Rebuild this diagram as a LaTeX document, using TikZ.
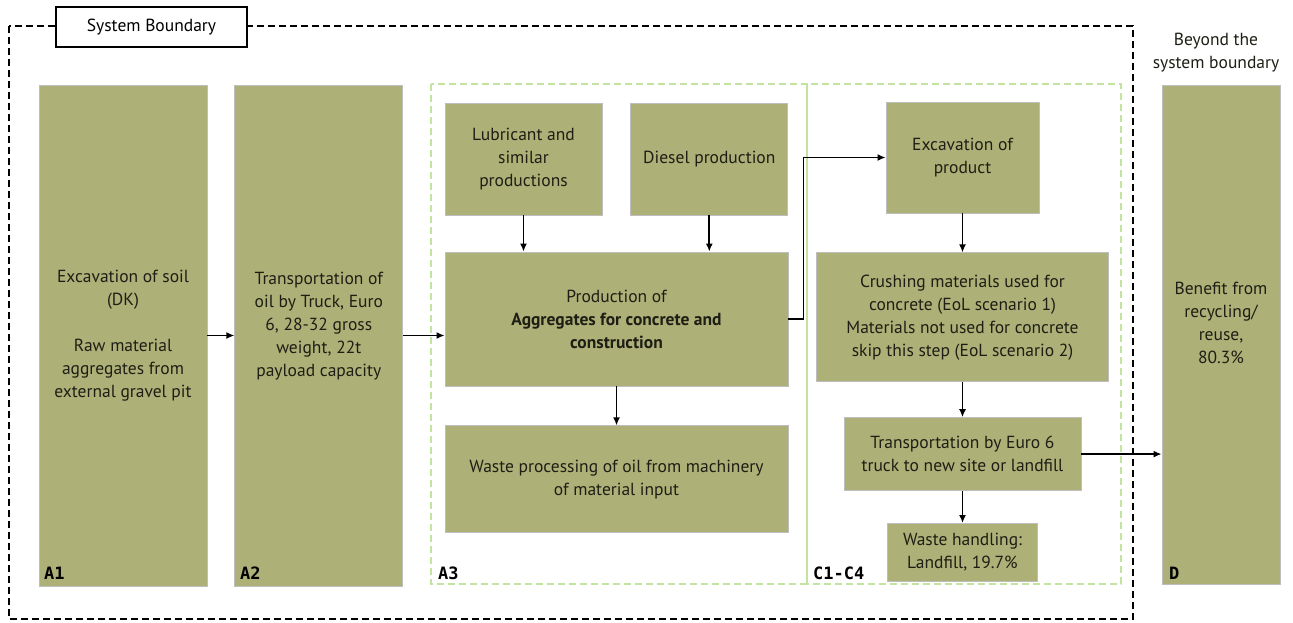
\documentclass[tikz,border=0pt]{standalone}
\usepackage{fontspec}
\setmainfont{PT Sans}
\newfontfamily\labelfont{DejaVu Sans Mono}
\usetikzlibrary{arrows.meta,positioning}
\definecolor{boxfill}{RGB}{173,177,120}
\definecolor{boxline}{RGB}{190,190,190}
\definecolor{regioncolor}{RGB}{195,228,160}
\definecolor{textcolor}{RGB}{30,30,20}
\newcommand{\boxfont}{\fontsize{17.5}{23}\selectfont}

\begin{document}
\begin{tikzpicture}[
    x=1pt, y=-1pt,
    box/.style={rectangle, draw=boxline, line width=0.8pt, fill=boxfill, font=\boxfont, text=textcolor, align=center, inner sep=3pt},
    stage/.style={box, minimum width=168pt, minimum height=501pt},
    stagelabel/.style={font=\labelfont\bfseries\fontsize{17}{17}\selectfont, anchor=base west, inner sep=0pt},
    region/.style={draw=regioncolor, line width=1.2pt, dash pattern=on 7pt off 4pt},
    boundary/.style={draw=black, line width=1.4pt, dash pattern=on 7pt off 4pt},
    arrow/.style={-{Latex[length=8pt,width=7pt]}, line width=1.7pt}
]
\useasboundingbox (0,0) rectangle (1293,623);

% System boundary
\draw[boundary] (9,26) rectangle (1133,619);
\node[draw=black, line width=1.4pt, fill=white, font=\boxfont, minimum width=191pt, minimum height=40pt] (sysb) at (151.5,27) {System Boundary};

% Regions A3 and C1-C4
\draw[region] (431,84) rectangle (807,584);
\draw[region] (807,84) rectangle (1121,584);
\draw[draw=regioncolor, line width=1.2pt] (807,84) -- (807,584);

% A1 and A2
\node[stage] (a1) at (123,335.5) {Excavation of soil\\(DK)\\[23pt]Raw material\\aggregates from\\external gravel pit};
\node[stage, right=27pt of a1] (a2) {Transportation of\\oil by Truck, Euro\\6, 28-32 gross\\weight, 22t\\payload capacity\\\mbox{}};

% A3
\node[box, minimum width=157pt, minimum height=112pt] (lub) at (523.5,159) {Lubricant and\\similar\\productions};
\node[box, minimum width=157pt, minimum height=112pt, right=28pt of lub] (dsl) {Diesel production};
\node[box, minimum width=343pt, minimum height=134pt] (prod) at (616.5,319) {Production of\\\textbf{Aggregates for concrete and}\\\textbf{construction}};
\node[box, minimum width=343pt, minimum height=107pt, below=39pt of prod] (waste) {Waste processing of oil from machinery\\of material input};

% C1-C4
\node[box, minimum width=153pt, minimum height=111pt] (exc) at (962.5,157.5) {Excavation of\\product};
\node[box, minimum width=292pt, minimum height=129pt, below=39pt of exc] (crush) {Crushing materials used for\\concrete (EoL scenario 1)\\Materials not used for concrete\\skip this step (EoL scenario 2)};
\node[box, minimum width=237pt, minimum height=73pt, below=35pt of crush] (trans) {Transportation by Euro 6\\truck to new site or landfill};
\node[box, minimum width=150pt, minimum height=58pt, below=32pt of trans] (wh) {Waste handling:\\Landfill, 19.7\%};

% D
\node[font=\boxfont, align=center, text=textcolor] (beyond) at (1216,53) {Beyond the\\system boundary};
\node[stage, minimum width=118pt, minimum height=499pt] (dbox) at (1221,334.5) {Benefit from\\recycling/\\reuse,\\80.3\%\\\mbox{}};

% Stage labels
\node[stagelabel] (la1) at (44,579) {A1};
\node[stagelabel] (la2) at (240,579) {A2};
\node[stagelabel] (la3) at (438,579) {A3};
\node[stagelabel] (lc) at (813,579) {C1-C4};
\node[stagelabel] (ld) at (1169,579) {D};

% Arrows
\draw[arrow] (a1) -- (a2);
\draw[arrow] (a2.east) -- (a2.east -| prod.west);
\foreach \source in {lub, dsl} {
    \draw[arrow] (\source) -- (\source |- prod.north);
}
\draw[arrow] (prod) -- (waste);
\draw[arrow] (prod.east) -- ++(15,0) |- (exc.west);
\foreach \source/\dest in {exc/crush, crush/trans, trans/wh} {
    \draw[arrow] (\source) -- (\dest);
}
\draw[arrow] (trans.east) -- (trans.east -| dbox.west);

\end{tikzpicture}
\end{document}
